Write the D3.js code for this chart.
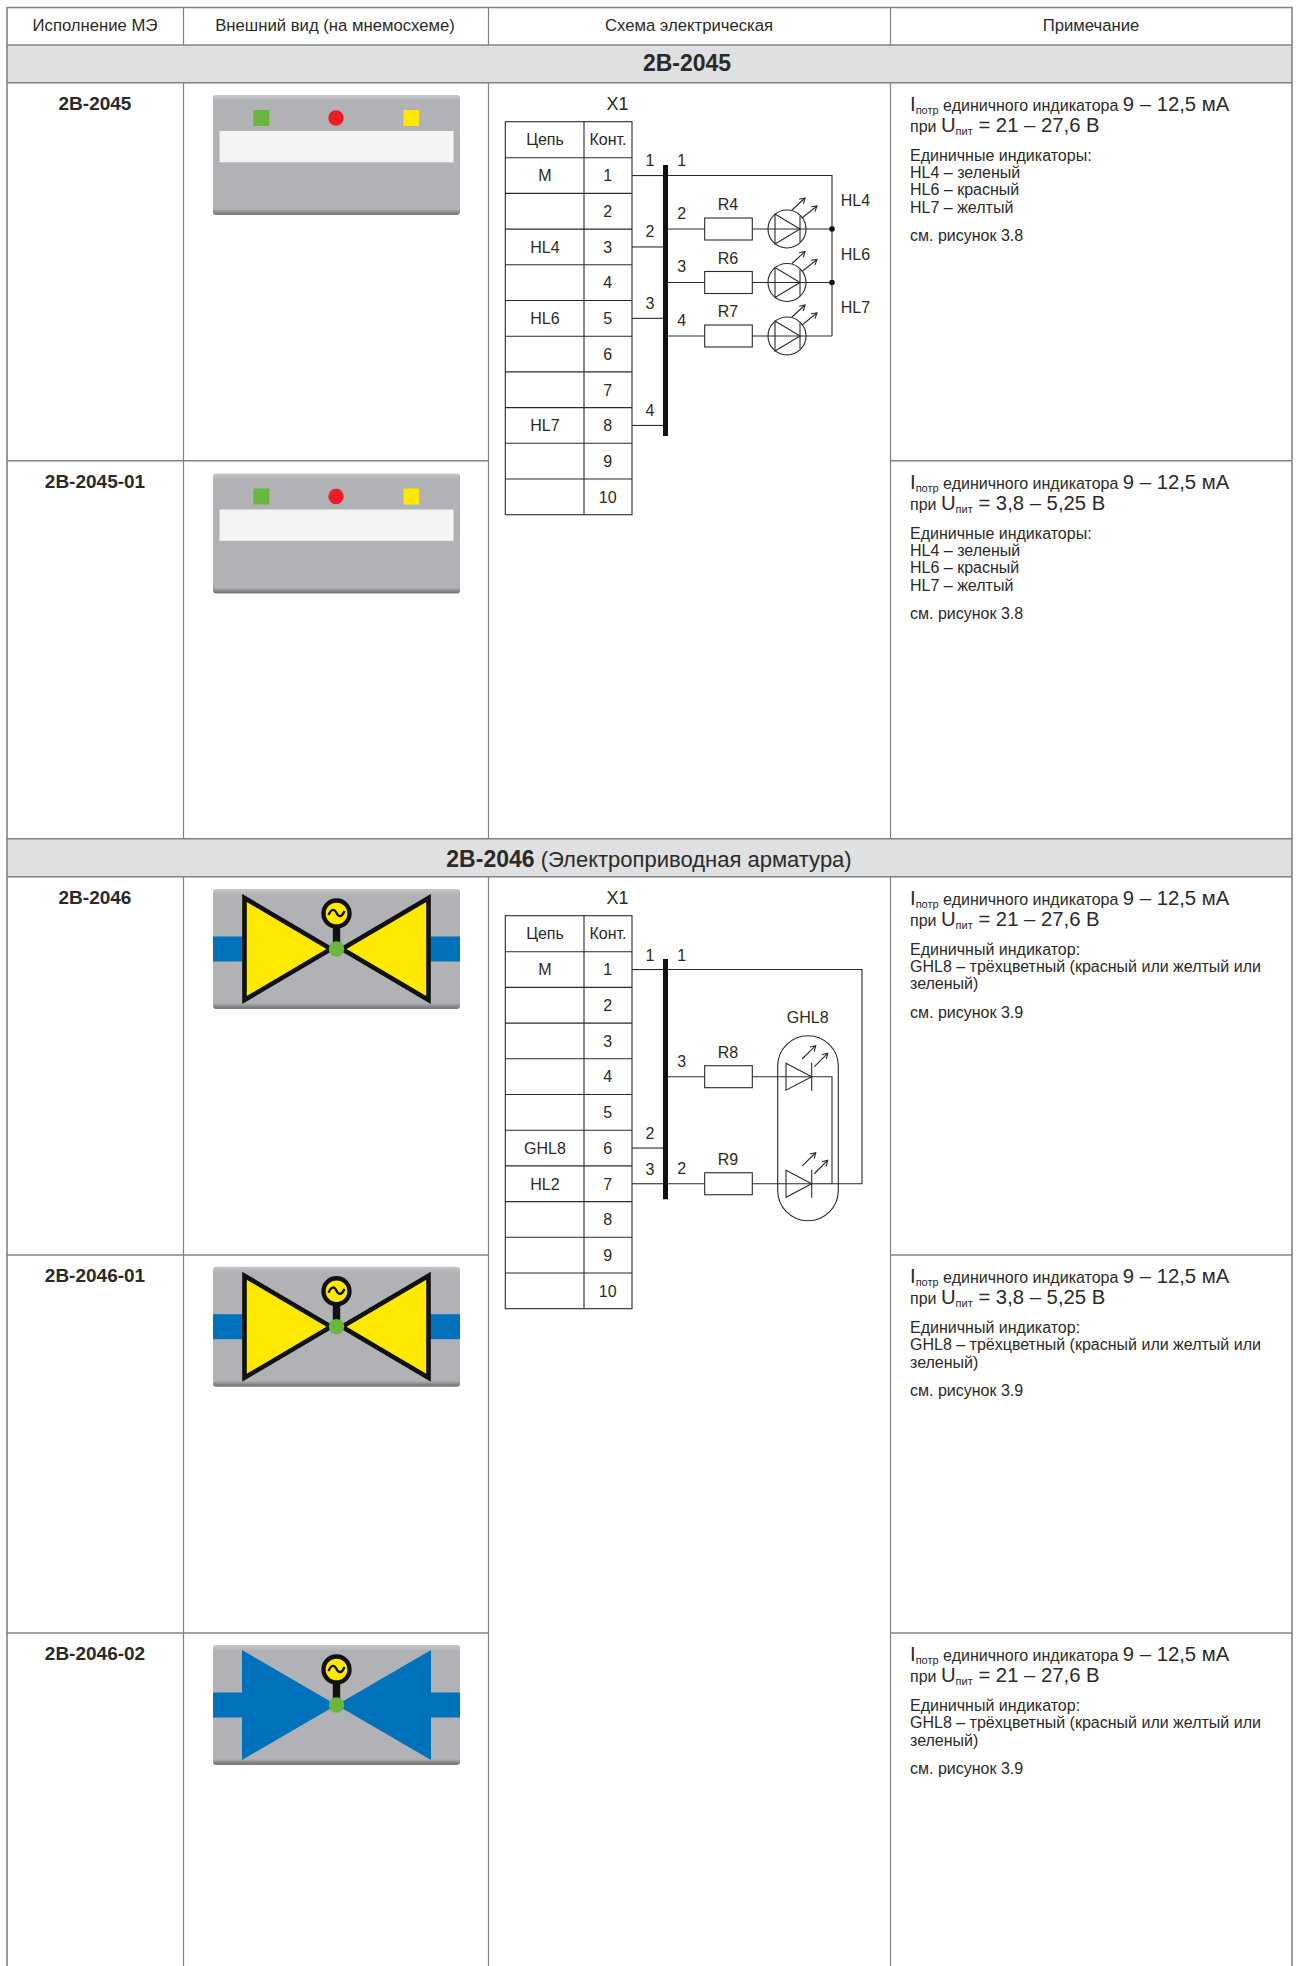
<!DOCTYPE html>
<html><head><meta charset="utf-8">
<script src="https://cdn.jsdelivr.net/npm/d3@7"></script>
<style>html,body{margin:0;padding:0;background:#fff}svg{display:block}text{font-family:"Liberation Sans",Arial,sans-serif;fill:#2b2a29}</style>
</head><body><svg id="c" width="1298" height="1966"></svg>
<script>
// ---- data ----
const headers = ["Исполнение МЭ","Внешний вид (на мнемосхеме)","Схема электрическая","Примечание"];
const bands = [{bold:"2В-2045",rest:""},{bold:"2В-2046",rest:" (Электроприводная арматура)"}];
const rowNames = ["2В-2045","2В-2045-01","2В-2046","2В-2046-01","2В-2046-02"];
const rowKinds = ["lamp","lamp","valve","valve","valveBlue"];
const rowVoltages = ["21 – 27,6 В","3,8 – 5,25 В","21 – 27,6 В","3,8 – 5,25 В","21 – 27,6 В"];
const rowFigures = ["см. рисунок 3.8","см. рисунок 3.8","см. рисунок 3.9","см. рисунок 3.9","см. рисунок 3.9"];
const notesLamp = ["Единичные индикаторы:","HL4 – зеленый","HL6 – красный","HL7 – желтый"];
const notesValve = ["Единичный индикатор:","GHL8 – трёхцветный (красный или желтый или","зеленый)"];
const contacts = ["1","2","3","4","5","6","7","8","9","10"];
const circuits1 = ["М","","HL4","","HL6","","","HL7","",""];
const circuits2 = ["М","","","","","GHL8","HL2","","",""];
const wireLeft1 = [{n:"1",c:"1"},{n:"2",c:"3"},{n:"3",c:"5"},{n:"4",c:"8"}];
const wireLeft2 = [{n:"1",c:"1"},{n:"2",c:"6"},{n:"3",c:"7"}];
const leds1 = [{n:"2",r:"R4",hl:"HL4"},{n:"3",r:"R6",hl:"HL6"},{n:"4",r:"R7",hl:"HL7"}];
const leds2 = [{n:"3",r:"R8"},{n:"2",r:"R9"}];

// ---- layout ----
const svg = d3.select("#c");
const LINE = "#808285";
const colX = [7,183.5,488.5,890.5,1292];
const rowTop = [82.7,460.7,876.7,1255,1633];
const bandY = [[45,82.7],[838.7,876.7]];
const panelTop = [95,473.5,889,1266.7,1645];
const defs = svg.append("defs");
const grad = defs.append("linearGradient").attr("id","pg").attr("x1",0).attr("x2",0).attr("y1",0).attr("y2",1);
[[0,"#c6c7c9"],[.05,"#b1b2b5"],[.95,"#b1b2b5"],[.985,"#7f8083"],[1,"#77787b"]].forEach(s=>grad.append("stop").attr("offset",s[0]).attr("stop-color",s[1]));

const T = (g,x,y,s,o={})=>g.append("text").attr("x",x).attr("y",y).attr("text-anchor",o.a||"middle")
  .attr("font-size",o.s||16).attr("font-weight",o.b?"bold":null).text(s);

// bands
const gT = svg.append("g");
gT.selectAll("rect.b").data(bandY).join("rect").attr("class","b").attr("x",colX[0]).attr("width",colX[4]-colX[0])
  .attr("y",d=>d[0]).attr("height",d=>d[1]-d[0]).attr("fill","#dfe0e2");
// grid
const hl = (x1,x2,y)=>gT.append("line").attr("x1",x1).attr("x2",x2).attr("y1",y).attr("y2",y).attr("stroke",LINE).attr("stroke-width",1.4);
const vl = (x,y1,y2,w)=>gT.append("line").attr("x1",x).attr("x2",x).attr("y1",y1).attr("y2",y2).attr("stroke",LINE).attr("stroke-width",w||1.2);
hl(colX[0],colX[4],7.5);
[45,82.7,838.7,876.7].forEach(y=>hl(colX[0],colX[4],y));
[460.7,1255,1633].forEach(y=>{hl(colX[0],colX[2],y);hl(colX[3],colX[4],y);});
vl(colX[0],7,1966,1.6);vl(colX[4],7,1966,1.6);
[colX[1],colX[2],colX[3]].forEach(x=>{vl(x,7,45);vl(x,82.7,838.7);vl(x,876.7,1966);});
// headers
const headerCx = [95,335,689,1091];
headers.forEach((h,i)=>T(svg,headerCx[i],31,h,{s:16.7}));
T(svg,687,71,bands[0].bold,{s:23,b:true});
const bt = svg.append("text").attr("x",649).attr("y",867).attr("text-anchor","middle").attr("font-size",22);
bt.append("tspan").attr("font-weight","bold").attr("font-size",23).text(bands[1].bold);
bt.append("tspan").text(bands[1].rest);

// rows
const labelOff = 27.3, noteOff = 28.3;
rowNames.forEach((name,i)=>{
  T(svg,95,rowTop[i]+labelOff,name,{s:19,b:true});
  const y0 = rowTop[i]+noteOff, g=svg.append("g");
  const l1 = g.append("text").attr("x",910).attr("y",y0).attr("font-size",16);
  l1.append("tspan").attr("font-size",20.3).text("I");
  l1.append("tspan").attr("font-size",11).attr("dy",3).text("потр");
  l1.append("tspan").attr("dy",-3).text(" единичного индикатора ");
  l1.append("tspan").attr("font-size",20.3).text("9 – 12,5 мА");
  const l2 = g.append("text").attr("x",910).attr("y",y0+20.7).attr("font-size",16);
  l2.append("tspan").text("при ");
  l2.append("tspan").attr("font-size",20.3).text("U");
  l2.append("tspan").attr("font-size",11).attr("dy",3).text("пит");
  l2.append("tspan").attr("font-size",20.3).attr("dy",-3).text(" = "+rowVoltages[i]);
  const lines = rowKinds[i]==="lamp"?notesLamp:notesValve;
  const yS = y0+49.7, step=17.3;
  lines.forEach((t,k)=>T(g,910,yS+k*step,t,{a:"start",s:16}));
  const figY = lines.length===4? y0+130 : y0+112.7;
  T(g,910,figY,rowFigures[i],{a:"start",s:16});
  drawPanel(rowKinds[i],panelTop[i]);
});

function drawPanel(kind,top){
  const g = svg.append("g").attr("transform",`translate(213,${top})`);
  const W=247,H=120;
  g.append("rect").attr("width",W).attr("height",H).attr("rx",3).attr("fill","url(#pg)");
  if(kind==="lamp"){
    g.append("rect").attr("x",6.5).attr("y",36).attr("width",234).attr("height",31.3).attr("fill","#f4f4f4");
    g.append("rect").attr("x",40.5).attr("y",15).attr("width",16).attr("height",16).attr("fill","#6ab63f");
    g.append("circle").attr("cx",123).attr("cy",23).attr("r",7.7).attr("fill","#ed1c24");
    g.append("rect").attr("x",190.5).attr("y",15).attr("width",15.5).attr("height",16).attr("fill","#ffe900");
    return;
  }
  const blue = "#0072bc", cx=123.5, cy=60;
  g.append("rect").attr("y",cy-12.5).attr("width",30).attr("height",25).attr("fill",blue);
  g.append("rect").attr("x",217).attr("y",cy-12.5).attr("width",30).attr("height",25).attr("fill",blue);
  if(kind==="valve"){
    const tri=[[[31.5,9],[31.5,111],[118,60]],[[215.5,9],[215.5,111],[129,60]]];
    g.selectAll("path.t").data(tri).join("path").attr("class","t").attr("d",d=>d3.line()(d)+"Z")
     .attr("fill","#ffe900").attr("stroke","#111").attr("stroke-width",4.6).attr("stroke-linejoin","miter");
  } else {
    const tri=[[[29,5],[29,115],[123.5,60]],[[218,5],[218,115],[123.5,60]]];
    g.selectAll("path.t").data(tri).join("path").attr("class","t").attr("d",d=>d3.line()(d)+"Z").attr("fill",blue);
  }
  g.append("rect").attr("x",cx-3.7).attr("y",36).attr("width",7.4).attr("height",20).attr("fill","#111");
  g.append("circle").attr("cx",cx).attr("cy",24.5).attr("r",13).attr("fill","#ffe900").attr("stroke","#111").attr("stroke-width",4.4);
  g.append("path").attr("d",`M${cx-8},${26} C${cx-5},${19} ${cx-2},${20} ${cx},${24} S${cx+5},${29} ${cx+8},${22}`).attr("fill","none").attr("stroke","#111").attr("stroke-width",2.4);
  g.append("circle").attr("cx",cx).attr("cy",cy).attr("r",7.7).attr("fill","#6ab63f");
}

// schematics
const C = "#2b2a29";
const LW = 1.1;
function line(g,pts,w){return g.append("path").attr("d",d3.line()(pts)).attr("fill","none").attr("stroke",C).attr("stroke-width",w||LW);}

function terminal(top,circuits){
  const g = svg.append("g");
  const hdrBottom = top+36;
  const y = d3.scaleBand().domain(contacts).range([hdrBottom,hdrBottom+357]);
  const x0=505.3,x1=584,x2=632;
  T(g,617.5,top-11.7,"X1",{s:18});
  g.append("rect").attr("x",x0).attr("y",top).attr("width",x2-x0).attr("height",393).attr("fill","none").attr("stroke",C).attr("stroke-width",1.1);
  line(g,[[x1,top],[x1,top+393]]);
  line(g,[[x0,hdrBottom],[x2,hdrBottom]]);
  g.selectAll("line.r").data(contacts.slice(1)).join("line").attr("class","r").attr("x1",x0).attr("x2",x2)
    .attr("y1",d=>y(d)).attr("y2",d=>y(d)).attr("stroke",C).attr("stroke-width",LW);
  T(g,545,top+23.5,"Цепь");T(g,608,top+23.5,"Конт.");
  g.selectAll("text.n").data(contacts).join("text").attr("class","n").attr("x",607.7).attr("text-anchor","middle")
    .attr("y",d=>y(d)+y.bandwidth()/2+5.8).attr("font-size",16).text(d=>d);
  g.selectAll("text.c").data(circuits).join("text").attr("class","c").attr("x",545).attr("text-anchor","middle")
    .attr("y",(d,i)=>y(contacts[i])+y.bandwidth()/2+5.8).attr("font-size",16).text(d=>d);
  return {g,y,cy:d=>y(d)+y.bandwidth()/2,x2};
}
function resistor(g,cy){
  g.append("rect").attr("x",704.7).attr("y",cy-11).attr("width",47.6).attr("height",22).attr("fill","#fff").attr("stroke",C).attr("stroke-width",1.1);
}
function arrow(g,x1,y1,x2,y2){
  line(g,[[x1,y1],[x2,y2]]);
  const a=Math.atan2(y2-y1,x2-x1),s=6;
  const p=b=>[x2-s*Math.cos(a+b),y2-s*Math.sin(a+b)];
  line(g,[p(.55),[x2,y2],p(-.55)]);
}

// schematic 1
(function(){
  const t = terminal(121.7,circuits1), g=t.g;
  g.append("rect").attr("x",663).attr("y",165).attr("width",5).attr("height",271).attr("fill","#111");
  wireLeft1.forEach(w=>{
    const cy=t.cy(w.c);
    line(g,[[t.x2,cy],[663,cy]]);
    T(g,650,cy-9.7,w.n);
  });
  const yTop=t.cy("1");
  T(g,681.7,yTop-9.7,"1");
  const ledY=d3.scalePoint().domain(leds1.map(d=>d.n)).range([229,336]);
  const busX=832;
  line(g,[[668,yTop],[busX,yTop],[busX,ledY("4")]]);
  leds1.forEach((d,i)=>{
    const cy=ledY(d.n);
    line(g,[[668,cy],[704.7,cy]]);
    resistor(g,cy);
    line(g,[[752.3,cy],[busX,cy]]);
    T(g,681.7,cy-10.3,d.n);
    T(g,728,cy-19,d.r);
    T(g,855.5,cy-23,d.hl);
    g.append("circle").attr("cx",787).attr("cy",cy).attr("r",19).attr("fill","none").attr("stroke",C).attr("stroke-width",LW);
    g.append("path").attr("d",d3.line()([[775,cy-15],[800,cy],[775,cy+15]])+"Z").attr("fill","none").attr("stroke",C).attr("stroke-width",LW);
    line(g,[[800,cy-13],[800,cy+13]]);
    arrow(g,792,cy-19,805,cy-31);
    arrow(g,802,cy-11,817,cy-23);
    if(i<2) g.append("circle").attr("cx",busX).attr("cy",cy).attr("r",2.8).attr("fill","#111");
  });
})();

// schematic 2
(function(){
  const t = terminal(915.7,circuits2), g=t.g;
  g.append("rect").attr("x",663).attr("y",959).attr("width",5).attr("height",240.3).attr("fill","#111");
  wireLeft2.forEach(w=>{
    const cy=t.cy(w.c);
    line(g,[[t.x2,cy],[663,cy]]);
    T(g,650,cy-8.7,w.n);
  });
  const yTop=t.cy("1"), yBot=t.cy("7");
  T(g,681.7,yTop-8.3,"1");
  const ledY=d3.scalePoint().domain(leds2.map(d=>d.n)).range([1076.7,yBot]);
  line(g,[[668,yTop],[862,yTop],[862,yBot],[832,yBot]]);
  line(g,[[811.7,ledY("3")],[832,ledY("3")],[832,yBot]]);
  g.append("rect").attr("x",777.7).attr("y",1035.7).attr("width",60.6).attr("height",185).attr("rx",30.3).attr("fill","none").attr("stroke",C).attr("stroke-width",LW);
  T(g,807.7,1022.7,"GHL8");
  leds2.forEach(d=>{
    const cy=ledY(d.n);
    line(g,[[668,cy],[704.7,cy]]);
    resistor(g,cy);
    line(g,[[752.3,cy],[811.7,cy]]);
    T(g,681.7,cy-10,d.n);
    T(g,728,cy-18.7,d.r);
    g.append("path").attr("d",d3.line()([[786,cy-13.5],[811.7,cy],[786,cy+13.5]])+"Z").attr("fill","none").attr("stroke",C).attr("stroke-width",LW);
    line(g,[[811.7,cy-14],[811.7,cy+14]]);
    arrow(g,802,cy-17.7,815.7,cy-31);
    arrow(g,814.3,cy-10,827.7,cy-23.4);
  });
  line(g,[[811.7,yBot],[832,yBot]]);
})();
</script></body></html>
